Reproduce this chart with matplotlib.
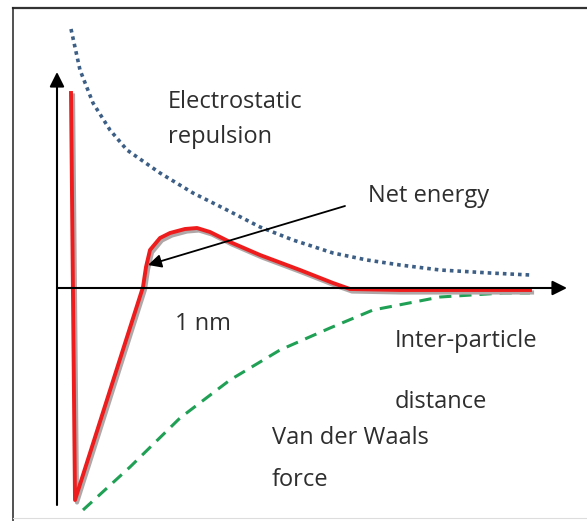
import numpy as np
import matplotlib.pyplot as plt
from matplotlib.lines import Line2D

# distance (arbitrary units, 1 unit ~ 0.5 nm) and energy (arbitrary units)
net_x = [0.28, 0.36, 1.72, 1.78, 1.86, 2.06, 2.26, 2.56, 2.80, 3.06, 3.46, 4.06, 4.86, 5.52, 5.86, 6.86, 9.46]
net_y = [3.90, -4.24, 0.02, 0.42, 0.76, 1.00, 1.10, 1.18, 1.20, 1.12, 0.92, 0.66, 0.36, 0.10, -0.02, -0.04, -0.04]

rep_x = [0.28, 0.46, 0.72, 1.06, 1.40, 2.06, 2.72, 3.40, 4.06, 4.72, 5.52, 6.20, 6.86, 7.66, 8.66, 9.46]
rep_y = [5.18, 4.36, 3.70, 3.16, 2.76, 2.30, 1.90, 1.56, 1.22, 0.96, 0.70, 0.56, 0.46, 0.36, 0.30, 0.26]

vdw_x = [0.52, 1.46, 2.46, 3.46, 4.46, 5.46, 6.32, 7.66, 8.92, 9.46]
vdw_y = [-4.44, -3.58, -2.60, -1.84, -1.24, -0.80, -0.44, -0.18, -0.10, -0.10]

W, H = 587, 521
fig = plt.figure(figsize=(W / 100, H / 100), dpi=100)
ax = fig.add_axes([0, 0, 1, 1])
# origin of the energy axes sits at pixel (57, 288), 50 px per unit
ax.set_xlim(-57 / 50, (W - 57) / 50)
ax.set_ylim((288 - H) / 50, 288 / 50)
ax.axis('off')

# outer frame
fig.add_artist(Line2D([13 / W, 1], [1 - 8 / H, 1 - 8 / H], color='#333333', lw=1.6))
fig.add_artist(Line2D([13 / W, 13 / W], [0, 1 - 8 / H], color='#222222', lw=1.1))
fig.add_artist(Line2D([13 / W, 1], [3 / H, 3 / H], color='#dddddd', lw=0.8))

# axes arrows
arr = dict(arrowstyle='-|>', color='black', lw=1.5, mutation_scale=22, shrinkA=0, shrinkB=0)
ax.annotate('', xy=(0, 4.32), xytext=(0, -4.34), arrowprops=arr)
ax.annotate('', xy=(10.2, 0), xytext=(0, 0), arrowprops=arr)

# curves
ax.plot(rep_x, rep_y, color='#3d5f86', lw=2.6, ls=(0, (1, 1.1)))
ax.plot(vdw_x, vdw_y, color='#1fa055', lw=2.2, ls=(0, (4, 2.6)))
ax.plot(np.array(net_x) + 0.04, np.array(net_y) - 0.05, color='#b0a8a8', lw=3, solid_joinstyle='round')
ax.plot(net_x, net_y, color='#ee1c1c', lw=2.8, solid_joinstyle='round')

# pointer to net energy curve
ax.annotate('', xy=(1.82, 0.46), xytext=(5.76, 1.64),
            arrowprops=dict(arrowstyle='-|>', color='black', lw=1.3, mutation_scale=20,
                            shrinkA=0, shrinkB=0))

txt = dict(fontsize=17, color='#2e2e2e', family='Open Sans', va='baseline', ha='left')
def label(px, py, s):
    ax.text((px - 57) / 50, (288 - py) / 50, s, **txt)

label(168, 108, 'Electrostatic')
label(168, 143, 'repulsion')
label(368, 202, 'Net energy')
label(175, 330, '1 nm')
label(395, 347, 'Inter-particle')
label(395, 408, 'distance')
label(272, 444, 'Van der Waals')
label(272, 486, 'force')

fig.savefig('out.png', dpi=100)
